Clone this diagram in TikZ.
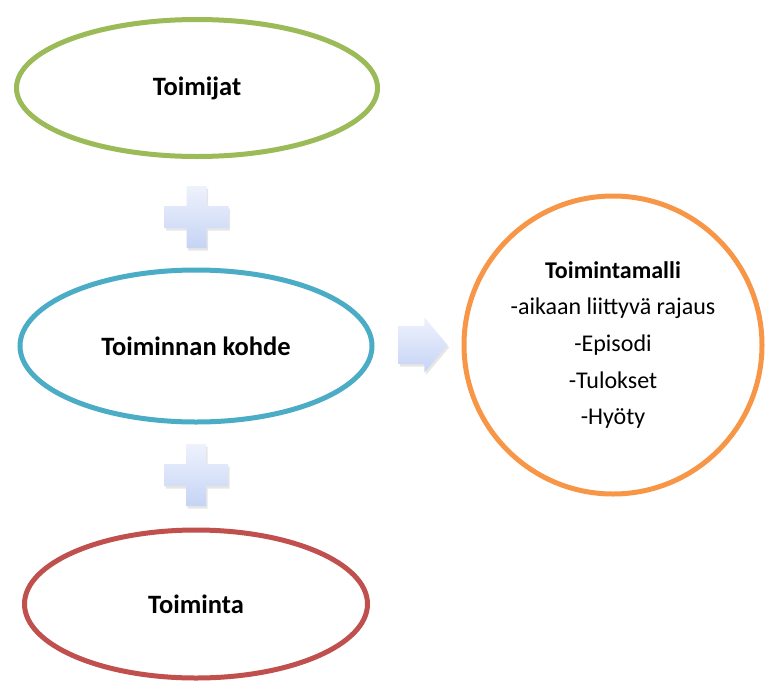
\documentclass[tikz,border=0pt]{standalone}
\usepackage{fontspec}
\setmainfont{Carlito}
\usetikzlibrary{positioning, calc, shapes.geometric, shapes.arrows, shadows}

\definecolor{actorgreen}{HTML}{9BBB59}
\definecolor{objectblue}{HTML}{4BACC6}
\definecolor{activityred}{HTML}{C0504D}
\definecolor{modelorange}{HTML}{F79646}
\definecolor{blocktop}{HTML}{EEF2FC}
\definecolor{blockbottom}{HTML}{C5D3F5}

\begin{document}
\begin{tikzpicture}[
    x=1pt, y=-1pt,
    every node/.style={font=\fontsize{24}{36.7}\selectfont},
    element/.style={ellipse, draw, line width=5pt, fill=white, font=\fontsize{26.5}{30}\selectfont\bfseries},
    model/.style={circle, draw=modelorange, line width=5pt, minimum size=298pt, align=center},
    block/.style={top color=blocktop, bottom color=blockbottom, drop shadow={opacity=0.2, shadow xshift=1.5pt, shadow yshift=-2.5pt}},
    plussign/.pic={\path[block] (-10,-31) -- (10,-31) -- (10,-11) -- (32,-11) -- (32,11) -- (10,11) -- (10,31) -- (-10,31) -- (-10,11) -- (-32,11) -- (-32,-11) -- (-10,-11) -- cycle;}
]
\useasboundingbox (0,0) rectangle (766,686);

% Nodes
\node[element, draw=actorgreen, minimum width=361pt, minimum height=137pt] (toimijat) at (197,88) {Toimijat};
\node[element, draw=objectblue, minimum width=352pt, minimum height=152pt] (kohde) at (196,346) {Toiminnan kohde};
\node[element, draw=activityred, minimum width=343pt, minimum height=148pt] (toiminta) at (196,604) {Toiminta};
\node[model] (malli) at (613,345) {\textbf{Toimintamalli}\\-aikaan liittyvä rajaus\\-Episodi\\-Tulokset\\-Hyöty};

% Plus signs
\pic (plusA) at ($(toimijat)!0.5!(kohde)$) {plussign};
\pic (plusB) at ($(kohde)!0.5!(toiminta)$) {plussign};

% Arrow
\node[single arrow, block, inner xsep=0pt, inner ysep=19pt, minimum height=49pt,
      single arrow head extend=8.5pt, single arrow tip angle=100] (flow) at (415,345) {};

\end{tikzpicture}
\end{document}
